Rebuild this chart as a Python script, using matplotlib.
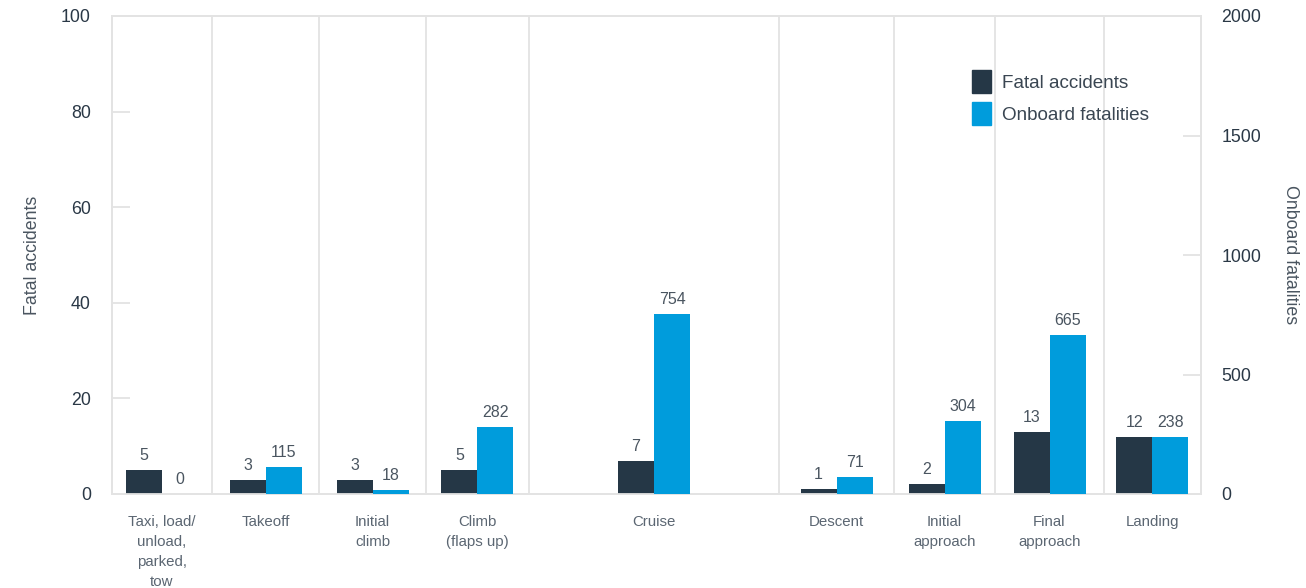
import matplotlib
matplotlib.use("Agg")
import matplotlib.pyplot as plt
import numpy as np
from matplotlib.patches import Patch

plt.rcParams['font.family'] = ['Liberation Sans', 'DejaVu Sans']

# ---- data ----
phases = ["Taxi, load/\nunload,\nparked,\ntow", "Takeoff", "Initial\nclimb", "Climb\n(flaps up)",
          "Cruise", "Descent", "Initial\napproach", "Final\napproach", "Landing"]
fatal_accidents = [5, 3, 3, 5, 7, 1, 2, 13, 12]
onboard_fatalities = [0, 115, 18, 282, 754, 71, 304, 665, 238]
left_ticks = [0, 20, 40, 60, 80, 100]
right_ticks = [0, 500, 1000, 1500, 2000]

# ---- layout ----
phase_widths = [100.6, 106.7, 107.0, 102.7, 250.6, 114.7, 101.0, 109.0, 96.7]
bar_w = 36.0

dark = "#253746"
blue = "#009cdc"
grid_c = "#e3e3e3"
tick_txt = "#2a3846"
cat_txt = "#5b6672"

bounds = np.concatenate([[0], np.cumsum(phase_widths)])
centers = (bounds[:-1] + bounds[1:]) / 2

fig = plt.figure(figsize=(13.06, 5.88), dpi=100)
ax = fig.add_axes([111.7/1306, 1-494/588, (1200.7-111.7)/1306, (494-16)/588])
ax2 = ax.twinx()

ax.set_xlim(bounds[0], bounds[-1])
ax.set_ylim(0, 100)
ax2.set_ylim(0, 2000)

b1 = ax.bar(centers - bar_w/2, fatal_accidents, width=bar_w, color=dark, zorder=3)
b2 = ax2.bar(centers + bar_w/2, onboard_fatalities, width=bar_w, color=blue, zorder=3)

for x in bounds[1:-1]:
    ax.axvline(x, color=grid_c, lw=1.3, zorder=1)

for rect, v in zip(b1, fatal_accidents):
    ax.annotate(str(v), (rect.get_x() + rect.get_width()/2, rect.get_height()),
                xytext=(0, 5), textcoords="offset points", ha="center", va="bottom",
                fontsize=11.5, color="#4a5560")
for rect, v in zip(b2, onboard_fatalities):
    ax2.annotate(str(v), (rect.get_x() + rect.get_width()/2, rect.get_height()),
                 xytext=(0, 5), textcoords="offset points", ha="center", va="bottom",
                 fontsize=11.5, color="#4a5560")

for a in (ax, ax2):
    for s in a.spines.values():
        s.set_color(grid_c)
        s.set_linewidth(1.3)

ax.set_yticks(left_ticks)
ax.set_yticklabels([str(t) for t in left_ticks])
ax2.set_yticks(right_ticks)
ax2.set_yticklabels([str(t) for t in right_ticks])
ax.tick_params(axis='y', direction='in', length=13, color=grid_c, width=1.3,
               pad=15, labelsize=12.8, labelcolor=tick_txt)
ax2.tick_params(axis='y', direction='in', length=13, color=grid_c, width=1.3,
                pad=15, labelsize=12.8, labelcolor=tick_txt)

ax.set_xticks(centers)
ax.set_xticklabels(phases, fontsize=10.8, color=cat_txt, linespacing=1.55, va='top')
ax.tick_params(axis='x', length=0, pad=15)

ax.set_ylabel("Fatal accidents", fontsize=12.8, color="#4a5560", va='center')
ax.yaxis.set_label_coords((32 - 111.7) / 1089, 0.5)
ax2.set_ylabel("Onboard fatalities", fontsize=12.8, color="#4a5560", rotation=270,
               va='center')
ax2.yaxis.set_label_coords((1290 - 111.7) / 1089, 0.5)

handles = [Patch(color=dark, label="Fatal accidents"), Patch(color=blue, label="Onboard fatalities")]
ax2.legend(handles=handles, loc="upper left", bbox_to_anchor=(0.774, 0.922), frameon=False,
           fontsize=13.6, handlelength=1.05, handleheight=1.45, handletextpad=0.55,
           labelspacing=0.5, labelcolor="#3a4652")

fig.savefig("out.png", dpi=100)
